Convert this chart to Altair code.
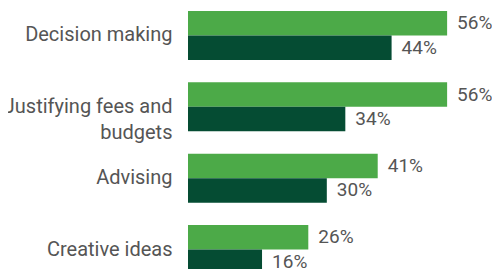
import altair as alt
import pandas as pd

categories = ["Decision making", "Justifying fees and|budgets", "Advising", "Creative ideas"]
series_names = ["A", "B"]
series_a = [56, 56, 41, 26]
series_b = [44, 34, 30, 16]
colors = ["#4caa48", "#054c33"]

rows = []
for c, a, b in zip(categories, series_a, series_b):
    rows.append({"cat": c, "series": "A", "value": a, "label": f"{a}%"})
    rows.append({"cat": c, "series": "B", "value": b, "label": f"{b}%"})
df = pd.DataFrame(rows)

FONT = "Roboto, sans-serif"

y_enc = alt.Y("cat:N", sort=categories,
              scale=alt.Scale(paddingInner=0.313, paddingOuter=0.042, range=[0, 269]),
              axis=alt.Axis(title=None, domain=False, ticks=False, labelPadding=16,
                            labelFontSize=20, labelColor="#555555", labelFont=FONT,
                            labelLineHeight=26, labelLimit=300,
                            labelExpr="split(datum.label, '|')"))
yoff = alt.YOffset("series:N", sort=series_names, scale=alt.Scale(paddingInner=0, paddingOuter=0))
x_enc = alt.X("value:Q", scale=alt.Scale(domain=[0, 65.7], nice=False, zero=True), axis=None)

bars = alt.Chart(df).mark_bar().encode(
    y=y_enc, yOffset=yoff, x=x_enc,
    color=alt.Color("series:N", scale=alt.Scale(domain=series_names, range=colors), legend=None),
)
text = alt.Chart(df).mark_text(align="left", baseline="middle", dx=10, fontSize=19,
                               color="#555555", font=FONT).encode(
    y=alt.Y("cat:N", sort=categories), yOffset=yoff, x=x_enc, text="label:N")

chart = (bars + text).properties(
    width=304, height=261,
    padding={"left": 180, "top": 0, "right": 0, "bottom": 0},
    autosize=alt.AutoSizeParams(type="none"),
).configure_view(stroke=None)

chart.save("out.html", embed_options={"renderer": "svg", "actions": False})
